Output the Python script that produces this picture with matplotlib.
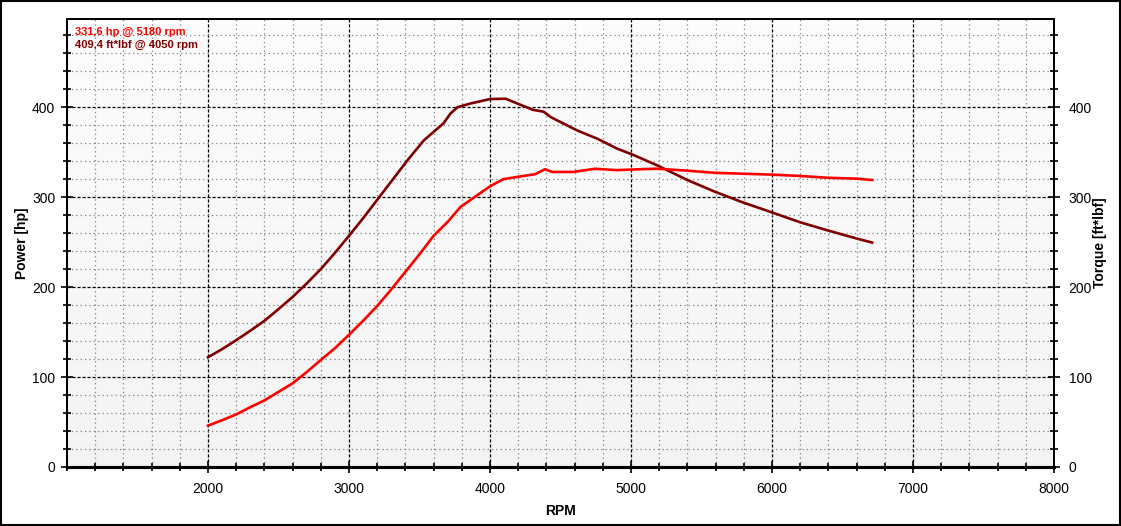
import numpy as np
import matplotlib
matplotlib.use("Agg")
import matplotlib.pyplot as plt
from matplotlib.patches import Rectangle
from matplotlib.ticker import MultipleLocator

plt.rcParams['font.family'] = ['Liberation Sans', 'DejaVu Sans']

# torque curve, ft*lbf
torque_rpm = [2000, 2100, 2200, 2300, 2400, 2500, 2600, 2700, 2800, 2900, 3000, 3100,
              3200, 3415, 3530, 3670, 3720, 3770, 3860, 4000, 4110, 4195, 4305,
              4380, 4430, 4620, 4760, 4900, 5015, 5190, 5400, 5595, 5795, 6000, 6200,
              6395, 6600, 6710]
torque = [122, 131, 141, 151.5, 162.5, 175.5, 189, 204, 220, 238, 257, 276.5,
          297, 341, 363, 382, 393, 400, 404, 409, 409.4, 404, 397,
          395, 389, 374, 365, 354, 347, 335, 319, 306, 294, 283, 272,
          263, 254, 249.5]

# power curve, hp
power_rpm = [2000, 2100, 2200, 2300, 2400, 2500, 2600, 2700, 2800, 2900, 3000, 3100,
             3200, 3300, 3400, 3500, 3600, 3700, 3790, 4000, 4095, 4195, 4320, 4390,
             4440, 4590, 4745, 4900, 5065, 5180, 5390, 5595, 5795, 6000, 6200, 6395,
             6600, 6710]
power = [46, 52, 58.5, 66.5, 74, 83.5, 93, 105.5, 119, 132, 147, 162.5,
         179, 197.5, 217, 236.5, 257, 272.5, 289, 312, 320, 322.5, 325.5, 331,
         328, 328, 331.5, 330, 331, 331.6, 329.5, 327, 326, 325, 323.5, 321.5,
         320.5, 319]

note_power = "331,6 hp @ 5180 rpm"
note_torque = "409,4 ft*lbf @ 4050 rpm"

power_color = "#ff0000"
torque_color = "#800000"

fig = plt.figure(figsize=(11.21, 5.26), dpi=100)
ax = fig.add_axes([67 / 1121, 59 / 526, 987 / 1121, 448 / 526])

# light gradient background of plot area
grad = np.linspace(0.99, 0.955, 256).reshape(-1, 1)
ax.imshow(np.dstack([grad, grad, grad]), extent=[1000, 8000, 0, 498],
          aspect='auto', origin='upper', zorder=0)

ax.set_xlim(1000, 8000)
ax.set_ylim(0, 498)

ax.xaxis.set_major_locator(MultipleLocator(1000))
ax.xaxis.set_minor_locator(MultipleLocator(200))
ax.yaxis.set_major_locator(MultipleLocator(100))
ax.yaxis.set_minor_locator(MultipleLocator(20))

ax.grid(which='minor', color='#808080', linestyle=(0, (1, 2.5)), linewidth=0.9, zorder=1)
ax.grid(which='major', color='black', linestyle=(0, (2.5, 1.5)), linewidth=0.9, zorder=1)
ax.set_axisbelow(True)

ax.plot(torque_rpm, torque, color=torque_color, linewidth=1.9, zorder=3)
ax.plot(power_rpm, power, color=power_color, linewidth=1.9, zorder=3)

xt = list(range(2000, 8001, 1000))
ax.set_xticks(xt)
ax.set_xticklabels([str(v) for v in xt])
yt = [0, 100, 200, 300, 400]
ax.set_yticks(yt)
ax.set_yticklabels([str(v) for v in yt])

ax.tick_params(axis='both', which='major', direction='inout', length=9, width=1.2,
               labelsize=10, pad=4)
ax.tick_params(axis='both', which='minor', direction='inout', length=6, width=1.2)
ax.tick_params(axis='x', which='major', pad=6)

for s in ax.spines.values():
    s.set_linewidth(1.4)
ax.spines['bottom'].set_linewidth(2.2)

ax.set_xlabel('RPM', fontsize=10, fontweight='bold', labelpad=6)
ax.set_ylabel('Power [hp]', fontsize=10, fontweight='bold', labelpad=2)

ax2 = ax.twinx()
ax2.set_ylim(0, 498)
ax2.yaxis.set_major_locator(MultipleLocator(100))
ax2.yaxis.set_minor_locator(MultipleLocator(20))
ax2.set_yticks(yt)
ax2.set_yticklabels([str(v) for v in yt])
ax2.tick_params(axis='y', which='major', direction='inout', length=9, width=1.2,
                labelsize=10, pad=6)
ax2.tick_params(axis='y', which='minor', direction='inout', length=6, width=1.2)
for s in ax2.spines.values():
    s.set_linewidth(1.4)
ax2.spines['bottom'].set_linewidth(2.2)
ax2.set_ylabel('Torque [ft*lbf]', fontsize=10, fontweight='bold', labelpad=1,
               rotation=90)

ax.text(0.008, 0.983, note_power, transform=ax.transAxes, color=power_color,
        fontsize=8, fontweight='bold', va='top', ha='left', zorder=5)
ax.text(0.008, 0.953, note_torque, transform=ax.transAxes, color=torque_color,
        fontsize=8, fontweight='bold', va='top', ha='left', zorder=5)

# outer frame
fig.patches.append(Rectangle((0.001, 0.001), 0.998, 0.997, transform=fig.transFigure,
                             fill=False, edgecolor='black', linewidth=1.5))

fig.savefig('out.png', dpi=100)
